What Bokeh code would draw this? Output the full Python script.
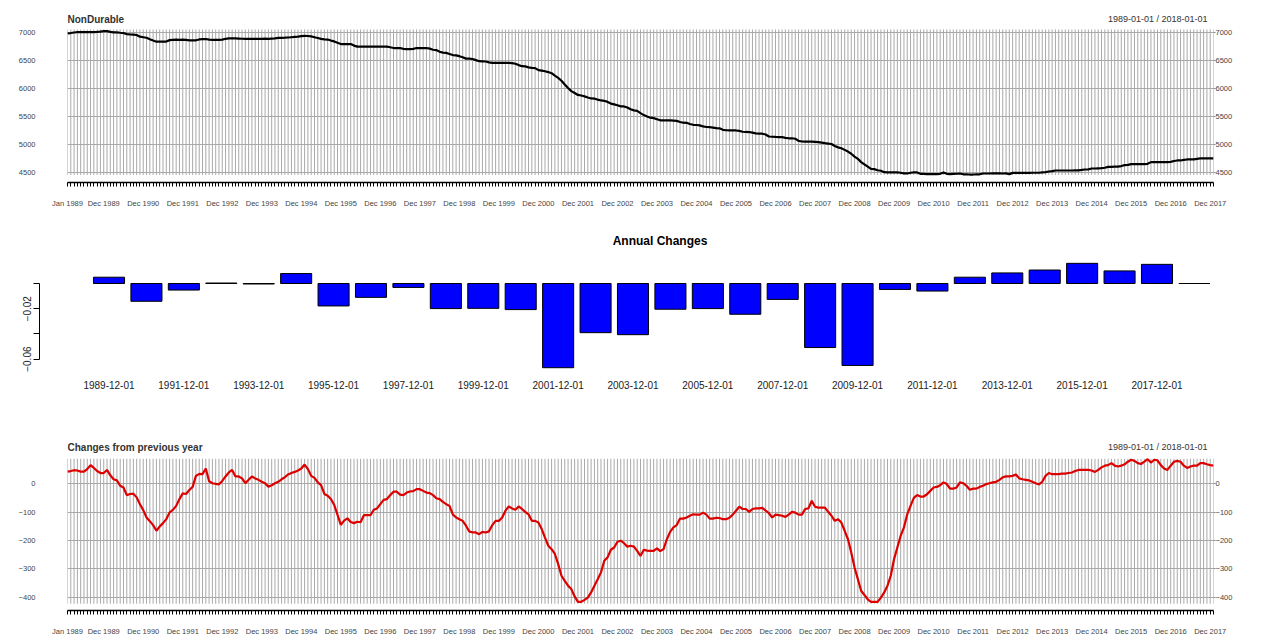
import pandas as pd
from bokeh.plotting import figure
from bokeh.models import Range1d, LinearAxis, FixedTicker, Label
from bokeh.embed import file_html
from bokeh.resources import INLINE

FONT = "Liberation Sans"

# ---------------- data ----------------
start_date = "1989-01-01"
end_date = "2018-01-01"
date_range_text = "1989-01-01 / 2018-01-01"

nondurable = [
    6990, 6995, 7005, 7010, 7010, 7012, 7012, 7012, 7012, 7015, 7020, 7030,
    7030, 7015, 7008, 7006, 7000, 6995, 6975, 6970, 6968, 6960, 6930, 6920,
    6910, 6885, 6862, 6840, 6840, 6840, 6842, 6868, 6874, 6876, 6874, 6876,
    6872, 6865, 6862, 6865, 6880, 6886, 6888, 6876, 6874, 6874, 6874, 6878,
    6892, 6898, 6900, 6898, 6896, 6893, 6892, 6892, 6892, 6892, 6890, 6890,
    6894, 6892, 6896, 6900, 6908, 6910, 6912, 6915, 6920, 6925, 6930, 6940,
    6945, 6942, 6935, 6920, 6905, 6890, 6880, 6878, 6860, 6845, 6820, 6798,
    6798, 6798, 6798, 6770, 6752, 6750, 6750, 6750, 6750, 6750, 6750, 6750,
    6750, 6750, 6740, 6726, 6726, 6726, 6712, 6708, 6708, 6712, 6726, 6726,
    6726, 6726, 6715, 6695, 6690, 6660, 6643, 6640, 6620, 6600, 6595, 6580,
    6560, 6536, 6536, 6530, 6510, 6490, 6488, 6485, 6470, 6460, 6459, 6459,
    6459, 6459, 6459, 6455, 6445, 6420, 6400, 6398, 6380, 6370, 6365, 6330,
    6322, 6310, 6295, 6275, 6230, 6191, 6140, 6072, 6010, 5953, 5920, 5885,
    5875, 5860, 5840, 5822, 5820, 5800, 5786, 5780, 5760, 5730, 5715, 5700,
    5680, 5679, 5660, 5630, 5608, 5600, 5560, 5524, 5500, 5477, 5470, 5450,
    5430, 5429, 5429, 5428, 5425, 5420, 5400, 5387, 5385, 5365, 5350, 5346,
    5340, 5320, 5310, 5308, 5300, 5290, 5286, 5260, 5252, 5251, 5250, 5248,
    5240, 5225, 5221, 5220, 5210, 5195, 5191, 5190, 5175, 5140, 5135, 5132,
    5130, 5128, 5115, 5108, 5108, 5100, 5060, 5050, 5048, 5048, 5048, 5045,
    5040, 5030, 5020, 5013, 5005, 4970, 4945, 4930, 4900, 4870, 4830, 4780,
    4740, 4680, 4640, 4600, 4560, 4555, 4535, 4525, 4500, 4498, 4495, 4495,
    4495, 4490, 4480, 4477, 4490, 4495, 4495, 4470, 4468, 4466, 4465, 4465,
    4465, 4470, 4495, 4470, 4465, 4470, 4472, 4476, 4462, 4460, 4458, 4458,
    4460, 4462, 4476, 4476, 4476, 4478, 4478, 4480, 4476, 4478, 4465, 4488,
    4488, 4488, 4488, 4488, 4488, 4490, 4490, 4490, 4495, 4500, 4512, 4520,
    4530, 4530, 4530, 4530, 4530, 4530, 4532, 4534, 4540, 4548, 4550, 4566,
    4566, 4570, 4572, 4580, 4596, 4596, 4600, 4600, 4610, 4626, 4630, 4644,
    4644, 4646, 4646, 4646, 4650, 4680, 4680, 4680, 4680, 4680, 4682, 4684,
    4700, 4710, 4710, 4720, 4728, 4728, 4730, 4740, 4746, 4746, 4746, 4746,
    4746,
]

yoy_change = [
    43, 45, 48, 47, 43, 43, 52, 66, 56, 45, 38, 38,
    49, 30, 16, 12, -7, -13, -40, -36, -35, -48, -72, -93,
    -119, -132, -146, -166, -151, -139, -125, -101, -92, -78, -54, -34,
    -36, -22, -11, 28, 35, 34, 54, 9, 2, 0, -2, 10,
    26, 40, 49, 26, 26, 19, 2, 14, 26, 19, 14, 7,
    2, -10, -5, 2, 7, 16, 23, 33, 38, 42, 47, 54,
    68, 52, 28, 21, 5, -5, -36, -42, -54, -75, -110, -145,
    -130, -122, -135, -139, -134, -136, -111, -111, -111, -92, -87, -72,
    -57, -54, -40, -28, -28, -38, -40, -31, -27, -26, -19, -19,
    -25, -31, -33, -40, -51, -54, -64, -72, -78, -108, -119, -125,
    -131, -148, -168, -172, -172, -178, -170, -172, -168, -146, -131, -131,
    -119, -95, -80, -87, -92, -80, -89, -99, -108, -131, -131, -137,
    -160, -190, -219, -231, -248, -284, -325, -343, -360, -372, -398, -417,
    -417, -410, -402, -384, -360, -337, -313, -272, -260, -233, -225, -205,
    -201, -210, -222, -219, -222, -237, -255, -233, -236, -237, -237, -228,
    -238, -231, -196, -170, -154, -146, -123, -123, -119, -113, -108, -109,
    -109, -102, -109, -123, -123, -120, -121, -125, -125, -120, -109, -95,
    -81, -89, -89, -99, -89, -87, -87, -85, -95, -104, -119, -109,
    -111, -113, -117, -109, -99, -102, -109, -109, -89, -87, -60, -81,
    -84, -84, -84, -99, -113, -131, -125, -137, -166, -196, -243, -296,
    -337, -378, -393, -408, -417, -417, -417, -402, -384, -360, -325, -266,
    -225, -184, -154, -108, -78, -50, -40, -45, -45, -37, -25, -13,
    -11, -5, 5, -1, -17, -17, -13, 5, 2, -7, -21, -17,
    -17, -11, -7, -1, 2, 5, 7, 14, 23, 26, 26, 28,
    33, 19, 16, 14, 12, 7, 2, -2, 7, 28, 38, 34,
    34, 34, 36, 36, 38, 40, 45, 49, 49, 49, 49, 47,
    42, 49, 58, 64, 66, 73, 64, 61, 64, 69, 78, 85,
    81, 73, 70, 78, 87, 75, 85, 83, 66, 54, 49, 64,
    78, 81, 78, 64, 56, 61, 64, 64, 73, 73, 69, 66,
    64,
]

bar_dates = [
    "1989-12-01", "1990-12-01", "1991-12-01", "1992-12-01", "1993-12-01",
    "1994-12-01", "1995-12-01", "1996-12-01", "1997-12-01", "1998-12-01",
    "1999-12-01", "2000-12-01", "2001-12-01", "2002-12-01", "2003-12-01",
    "2004-12-01", "2005-12-01", "2006-12-01", "2007-12-01", "2008-12-01",
    "2009-12-01", "2010-12-01", "2011-12-01", "2012-12-01", "2013-12-01",
    "2014-12-01", "2015-12-01", "2016-12-01", "2017-12-01", "2018-12-01",
]
annual_change = [
    0.0050, -0.0141, -0.0052, 0.0004, -0.0004, 0.0079, -0.0178, -0.0110,
    -0.0031, -0.0199, -0.0197, -0.0207, -0.0668, -0.0390, -0.0406, -0.0204,
    -0.0199, -0.0244, -0.0126, -0.0508, -0.0650, -0.0047, -0.0060, 0.0050,
    0.0084, 0.0107, 0.0160, 0.0100, 0.0152, 0.0,
]

top_ticks = [4500, 5000, 5500, 6000, 6500, 7000]
yoy_ticks = [-400, -300, -200, -100, 0]
bar_ticks = [-0.06, -0.04, -0.02, 0.0]
bar_hidden_labels = [-0.04, 0.0]

# ---------------- derived axes ----------------
months = pd.date_range(start_date, end_date, freq="MS")
idx = list(range(len(months)))
n = len(idx)
month_labels = {}
for i, d in enumerate(months):
    if i == 0 or d.month == 12:
        month_labels[i] = d.strftime("%b %Y")
    else:
        month_labels[i] = ""

GRID = "#a9a9a9"
TXT = "#444444"
W = 1280


def ts_panel(values, color, title, y_lo, y_top, grid_lo, grid_hi, head_y,
             yticks, height, b_top, b_bottom):
    p = figure(width=W, height=height, x_range=Range1d(0, n - 1),
               y_range=Range1d(y_lo, y_top), output_backend="svg",
               toolbar_location=None, min_border_left=67, min_border_right=67,
               min_border_top=b_top, min_border_bottom=b_bottom,
               outline_line_color=None, background_fill_color="white",
               border_fill_color="white")
    p.xgrid.visible = False
    p.ygrid.ticker = FixedTicker(ticks=yticks)
    p.ygrid.grid_line_color = GRID
    p.ygrid.grid_line_width = 1
    p.segment(x0=idx, y0=[grid_lo] * n, x1=idx, y1=[grid_hi] * n,
              line_color=GRID, line_width=1)
    p.line(idx, values, line_color=color, line_width=2.2)

    p.add_layout(Label(x=0, y=head_y, text=title, text_align="left",
                       text_baseline="middle", text_font=FONT,
                       text_font_size="10px", text_font_style="bold",
                       text_color="#333333"))
    p.add_layout(Label(x=n - 1, y=head_y, x_offset=-6, text=date_range_text,
                       text_align="right", text_baseline="middle",
                       text_font=FONT, text_font_size="9px",
                       text_color="#333333"))

    xa = p.xaxis[0]
    xa.ticker = FixedTicker(ticks=idx)
    xa.major_label_overrides = month_labels
    xa.major_tick_in = 0
    xa.major_tick_out = 4
    xa.minor_tick_line_color = None
    xa.major_tick_line_color = "black"
    xa.axis_line_color = "black"
    xa.axis_line_width = 1.5
    xa.major_label_standoff = 12
    xa.major_label_text_font = FONT
    xa.major_label_text_font_size = "7.5px"
    xa.major_label_text_color = TXT

    ya = p.yaxis[0]
    ya.ticker = FixedTicker(ticks=yticks)
    ya.axis_line_color = None
    ya.major_tick_line_color = None
    ya.minor_tick_line_color = None
    ya.major_label_standoff = 26
    ya.major_label_text_font = FONT
    ya.major_label_text_font_size = "7.5px"
    ya.major_label_text_color = TXT

    ra = LinearAxis(ticker=FixedTicker(ticks=yticks))
    ra.axis_line_color = None
    ra.major_tick_in = 0
    ra.major_tick_out = 2
    ra.major_tick_line_color = "#888888"
    ra.minor_tick_line_color = None
    ra.major_label_standoff = 0
    ra.major_label_text_font = FONT
    ra.major_label_text_font_size = "7.5px"
    ra.major_label_text_color = TXT
    p.add_layout(ra, "right")
    return p


# top panel: frame 8..182 px; grid 29..174.5 px; 7000 at 32.3 px, 4500 at 171.7 px
p1 = ts_panel(nondurable, "black", "NonDurable", 4315, 7435, 4450, 7059, 7238,
              top_ticks, 216, 8, 34)

# middle bar panel: frame 252..372 px, zero at 283 px
bar_idx = list(range(len(annual_change)))
p2 = figure(width=W, height=200, x_range=Range1d(-1.857, 31.30),
            y_range=Range1d(-0.0706, 0.0246), output_backend="svg",
            toolbar_location=None, min_border_left=39, min_border_right=0,
            min_border_top=36, min_border_bottom=44, outline_line_color=None,
            background_fill_color="white", border_fill_color="white")
p2.grid.visible = False
p2.vbar(x=bar_idx, top=annual_change, bottom=0, width=0.83,
        fill_color="#0000ff", line_color="black", line_width=1)
p2.title.text = "Annual Changes"
p2.title.align = "center"
p2.title.text_font = FONT
p2.title.text_font_size = "12px"
p2.title.text_font_style = "bold"
p2.title.text_color = "black"
p2.title.standoff = 10

ya2 = p2.yaxis[0]
ya2.ticker = FixedTicker(ticks=bar_ticks)
ya2.major_label_overrides = {v: "" for v in bar_hidden_labels}
ya2.bounds = (min(bar_ticks), max(bar_ticks))
ya2.major_label_orientation = "vertical"
ya2.major_tick_in = 0
ya2.major_tick_out = 6
ya2.minor_tick_line_color = None
ya2.axis_line_color = "black"
ya2.major_tick_line_color = "black"
ya2.major_label_standoff = 2
ya2.major_label_text_font = FONT
ya2.major_label_text_font_size = "10px"
ya2.major_label_text_color = "#222222"

xa2 = p2.xaxis[0]
xa2.ticker = FixedTicker(ticks=bar_idx[::2])
xa2.major_label_overrides = {k: bar_dates[k] for k in bar_idx[::2]}
xa2.axis_line_color = None
xa2.major_tick_line_color = None
xa2.minor_tick_line_color = None
xa2.major_label_standoff = 2
xa2.major_label_text_font = FONT
xa2.major_label_text_font_size = "10px"
xa2.major_label_text_color = "#222222"

# bottom panel: frame 424..610 px; grid 458.3..603.3 px; 0 at 483.3 px, -400 at 596.7 px
p3 = ts_panel(yoy_change, "#dd0000", "Changes from previous year", -447.7, 209.5,
              -423.7, 88.3, 128.3, yoy_ticks, 226, 8, 32)

open("out.html", "w").write(file_html([p1, p2, p3], INLINE))
